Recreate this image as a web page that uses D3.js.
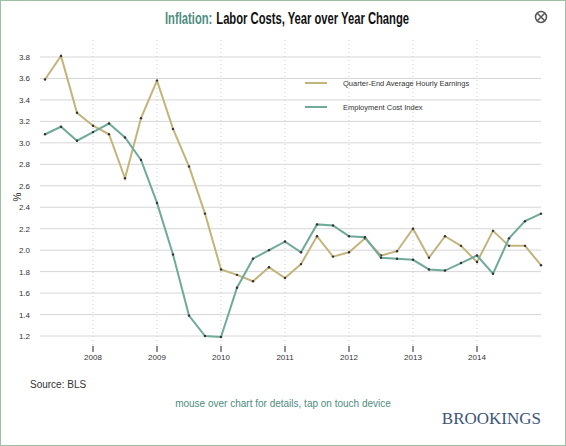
<!DOCTYPE html>
<html><head><meta charset="utf-8">
<script src="https://cdn.jsdelivr.net/npm/d3@7"></script>
<style>
body{margin:0;background:#fff;font-family:"Liberation Sans",Arial,sans-serif;}
</style></head><body>
<svg id="chart" width="566" height="446"></svg>
<script>
const quarters = [2007.25,2007.5,2007.75,2008,2008.25,2008.5,2008.75,2009,2009.25,2009.5,2009.75,2010,
  2010.25,2010.5,2010.75,2011,2011.25,2011.5,2011.75,2012,2012.25,2012.5,2012.75,2013,
  2013.25,2013.5,2013.75,2014,2014.25,2014.5,2014.75,2015];
const earnings = [3.59,3.81,3.28,3.16,3.08,2.67,3.23,3.58,3.13,2.78,2.34,1.82,
  1.77,1.71,1.84,1.74,1.87,2.13,1.94,1.98,2.11,1.95,1.99,2.20,
  1.93,2.13,2.04,1.89,2.18,2.04,2.04,1.86];
const eci = [3.08,3.15,3.02,3.10,3.18,3.05,2.84,2.44,1.96,1.39,1.20,1.19,
  1.65,1.92,2.00,2.08,1.98,2.24,2.23,2.13,2.12,1.93,1.92,1.91,
  1.82,1.81,1.88,1.95,1.78,2.11,2.27,2.34];
const yearTicks = [2008,2009,2010,2011,2012,2013,2014];
const yTicks = [1.2,1.4,1.6,1.8,2.0,2.2,2.4,2.6,2.8,3.0,3.2,3.4,3.6,3.8];
const seriesNames = ["Quarter-End Average Hourly Earnings","Employment Cost Index"];
const seriesColors = ["#c3b47c","#6faa9a"];

const svg = d3.select("#chart");
svg.append("rect").attr("x",0.5).attr("y",0.5).attr("width",565).attr("height",445)
  .attr("fill","none").attr("stroke","#9cc0a4");

const x = d3.scaleLinear().domain([2007.25,2015]).range([45,541]);
const y = d3.scaleLinear().domain([1.2,3.8]).range([336,57]);
const plotTop = 40, plotBottom = 345;

// grid
svg.append("g").selectAll("line").data(yTicks).join("line")
  .attr("x1",40).attr("x2",541).attr("y1",d=>y(d)).attr("y2",d=>y(d))
  .attr("stroke","#d6d6d6");
svg.append("g").selectAll("line").data(yearTicks).join("line")
  .attr("x1",d=>x(d)).attr("x2",d=>x(d)).attr("y1",plotTop).attr("y2",plotBottom)
  .attr("stroke","#cfcfcf").attr("stroke-dasharray","1,3");

svg.append("g").selectAll("text").data(yTicks).join("text")
  .attr("x",30).attr("y",d=>y(d)+3).attr("text-anchor","end")
  .attr("font-size",8).attr("fill","#333").text(d=>d.toFixed(1));

const xa = svg.append("g");
xa.selectAll("line").data(yearTicks).join("line")
  .attr("x1",d=>x(d)).attr("x2",d=>x(d)).attr("y1",346).attr("y2",352).attr("stroke","#222");
xa.selectAll("text").data(yearTicks).join("text")
  .attr("x",d=>x(d)).attr("y",360).attr("text-anchor","middle")
  .attr("font-size",8).attr("fill","#333").text(d=>d);

svg.append("text").attr("transform","translate(21,197) rotate(-90)")
  .attr("text-anchor","middle").attr("font-size",10).attr("fill","#222").text("%");

const line = d3.line().x((d,i)=>x(quarters[i])).y(d=>y(d));
[earnings,eci].forEach((vals,k)=>{
  svg.append("path").datum(vals).attr("d",line).attr("fill","none")
    .attr("stroke",seriesColors[k]).attr("stroke-width",2);
  svg.append("g").selectAll("circle").data(vals).join("circle")
    .attr("cx",(d,i)=>x(quarters[i])).attr("cy",d=>y(d)).attr("r",1.2).attr("fill","#333");
});

// legend
seriesNames.forEach((n,k)=>{
  const ly = 83 + k*24;
  svg.append("line").attr("x1",305).attr("x2",327).attr("y1",ly).attr("y2",ly)
    .attr("stroke",seriesColors[k]).attr("stroke-width",2);
  svg.append("text").attr("x",343).attr("y",ly+3).attr("font-size",7.5).attr("fill","#333").text(n);
});

// title, two pieces squeezed horizontally to mimic a condensed face
const tg = svg.append("g").attr("transform","translate(165,24) scale(0.66,1)");
const t1 = tg.append("text").attr("x",0).attr("y",0)
  .attr("font-size",17).attr("font-weight","bold").attr("fill","#4f8c80").text("Inflation:");
const w1 = t1.node().getComputedTextLength();
tg.append("text").attr("x",w1 + 6).attr("y",0)
  .attr("font-size",17).attr("font-weight","bold").attr("fill","#111")
  .text("Labor Costs, Year over Year Change");

// close icon
const ic = svg.append("g").attr("transform","translate(541,17)");
ic.append("circle").attr("r",5.5).attr("fill","none").attr("stroke","#555").attr("stroke-width",1.5);
ic.append("path").attr("d","M-3.5,-3.5L3.5,3.5M3.5,-3.5L-3.5,3.5").attr("stroke","#555").attr("stroke-width",1.5);

svg.append("text").attr("x",30).attr("y",388).attr("font-size",10).attr("fill","#333").text("Source: BLS");
svg.append("text").attr("x",283).attr("y",407).attr("text-anchor","middle").attr("font-size",10)
  .attr("fill","#4f8c80").text("mouse over chart for details, tap on touch device");
svg.append("text").attr("x",541).attr("y",424).attr("text-anchor","end")
  .attr("font-family","'Liberation Serif','DejaVu Serif',serif").attr("font-size",17)
  .attr("fill","#3b5578").text("BROOKINGS");
</script></body></html>
